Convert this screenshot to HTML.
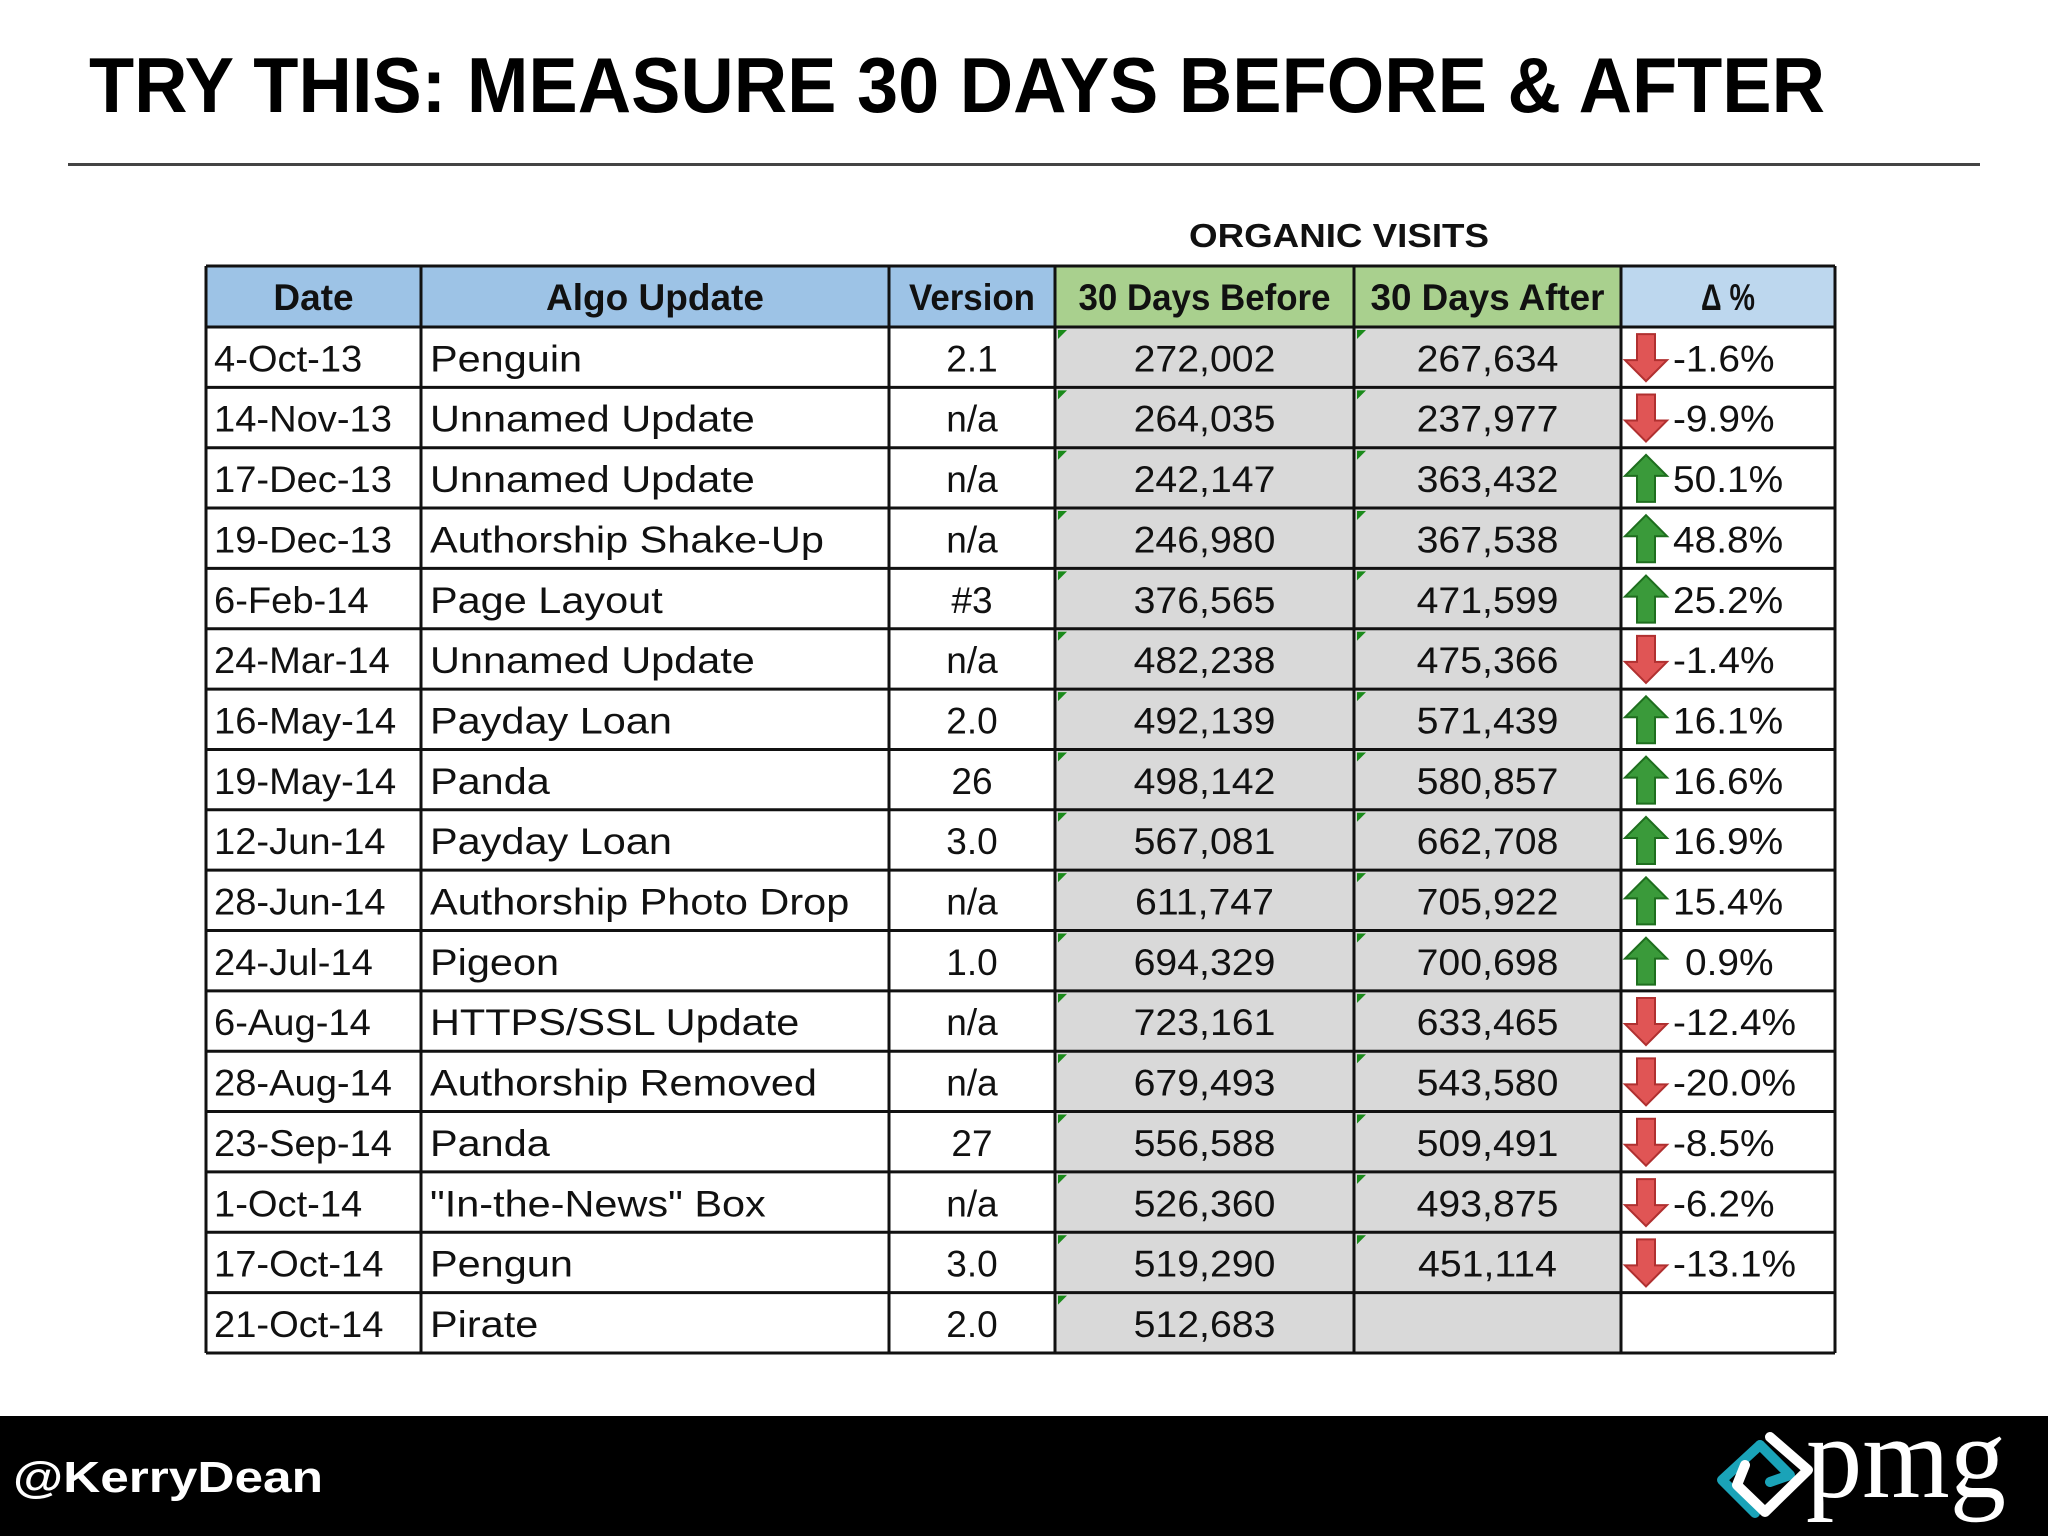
<!DOCTYPE html>
<html><head><meta charset="utf-8"><style>
html,body{margin:0;padding:0;background:#fff}
svg{display:block}
text{font-family:"Liberation Sans",sans-serif}
</style></head><body>
<svg id="s" width="2048" height="1536" viewBox="0 0 2048 1536" xmlns="http://www.w3.org/2000/svg">
<text x="89" y="112" font-size="78" font-weight="bold" textLength="1736" lengthAdjust="spacingAndGlyphs">TRY THIS: MEASURE 30 DAYS BEFORE &amp; AFTER</text>
<rect x="68" y="163" width="1912" height="3" fill="#444"/>
<text x="1339" y="247" font-size="33" font-weight="bold" text-anchor="middle" fill="#111" textLength="300" lengthAdjust="spacingAndGlyphs">ORGANIC VISITS</text>
<g id="tbl"></g>
<rect x="0" y="1416" width="2048" height="120" fill="#000"/>
<text x="13" y="1492" font-size="44" font-weight="bold" fill="#fff" textLength="310" lengthAdjust="spacingAndGlyphs">@KerryDean</text>
<g>
<path d="M1760 1445 L1722 1480 L1755 1513" stroke="#1aa3b8" stroke-width="10" fill="none" stroke-linecap="round" stroke-linejoin="round"/>
<path d="M1760 1445 L1790 1475 L1770 1482" stroke="#1aa3b8" stroke-width="10" fill="none" stroke-linecap="round" stroke-linejoin="round"/>
<path d="M1770 1437 L1808 1470 L1765 1512 L1737 1485 L1745 1465" stroke="#fff" stroke-width="10" fill="none" stroke-linecap="round" stroke-linejoin="round"/>
<text x="1806" y="1497" font-size="118" fill="#fff" textLength="200" lengthAdjust="spacingAndGlyphs" style="font-family:'Liberation Serif',serif">pmg</text>
</g>
</svg>
<script>
const dates=["4-Oct-13","14-Nov-13","17-Dec-13","19-Dec-13","6-Feb-14","24-Mar-14","16-May-14","19-May-14","12-Jun-14","28-Jun-14","24-Jul-14","6-Aug-14","28-Aug-14","23-Sep-14","1-Oct-14","17-Oct-14","21-Oct-14"];
const updates=["Penguin","Unnamed Update","Unnamed Update","Authorship Shake-Up","Page Layout","Unnamed Update","Payday Loan","Panda","Payday Loan","Authorship Photo Drop","Pigeon","HTTPS/SSL Update","Authorship Removed","Panda","\"In-the-News\" Box","Pengun","Pirate"];
const versions=["2.1","n/a","n/a","n/a","#3","n/a","2.0","26","3.0","n/a","1.0","n/a","n/a","27","n/a","3.0","2.0"];
const before=[272002,264035,242147,246980,376565,482238,492139,498142,567081,611747,694329,723161,679493,556588,526360,519290,512683];
const after=[267634,237977,363432,367538,471599,475366,571439,580857,662708,705922,700698,633465,543580,509491,493875,451114,null];
const NS="http://www.w3.org/2000/svg";
const g=document.getElementById('tbl');
const cols=[206,421,889,1055,1354,1621,1835];
const top0=266,hb=327,rh=60.35;
function el(t,a,p){const e=document.createElementNS(NS,t);for(const k in a)e.setAttribute(k,a[k]);(p||g).appendChild(e);return e;}
function txt(x,y,s,opt){const e=el('text',Object.assign({x:x,y:y,'font-size':37,fill:'#111'},opt||{}));e.textContent=s;return e;}
function widen(t,f){const w=t.getComputedTextLength();t.setAttribute('textLength',w*f);t.setAttribute('lengthAdjust','spacingAndGlyphs');}
const fmt=v=>v.toLocaleString('en-US');
const hdrs=["Date","Algo Update","Version","30 Days Before","30 Days After","Δ %"];
const hfill=["#9dc3e6","#9dc3e6","#9dc3e6","#a9d08e","#a9d08e","#bdd7ee"];
for(let c=0;c<6;c++){
 const r=el('rect',{x:cols[c],y:top0,width:cols[c+1]-cols[c],height:hb-top0,fill:hfill[c]});
 
 
 const t=txt((cols[c]+cols[c+1])/2,hb-17,hdrs[c],{'text-anchor':'middle','font-weight':'bold','font-size':37});
 
 
 const w=cols[c+1]-cols[c]-14;
 if(c>=2){t.setAttribute('textLength',Math.min(w, hdrs[c].length*18));t.setAttribute('lengthAdjust','spacingAndGlyphs');}
}
for(let i=0;i<dates.length;i++){
 const y=hb+i*rh, by=y+rh-16;
 [3,4].forEach(c=>{
  const r=el('rect',{x:cols[c],y:y,width:cols[c+1]-cols[c],height:rh,fill:'#d9d9d9'});
  
  
  if(c===3||after[i]!==null){const tri=el('path',{d:`M${cols[c]+3} ${y+3} h9 l-9 9z`,fill:'#1a8a1a'});
  
  }
 });
 let t=txt(cols[0]+8,by,dates[i]);
 
 
 widen(t,1.03);
 t=txt(cols[1]+9,by,updates[i]);
 
 
 widen(t,1.12);
 t=txt((cols[2]+cols[3])/2,by,versions[i],{'text-anchor':'middle'});
 
 
 t=txt((cols[3]+cols[4])/2,by,fmt(before[i]),{'text-anchor':'middle'});
 
 
 widen(t,1.06);
 if(after[i]!==null){
  t=txt((cols[4]+cols[5])/2,by,fmt(after[i]),{'text-anchor':'middle'});
  
  
  widen(t,1.06);
  const d=(after[i]-before[i])/before[i]*100;
  const up=d>=0, ax=cols[5]+25, yc=y+rh/2;
  let p;
  if(up) p=`M${ax} ${yc-23} L${ax+21} ${yc-2} H${ax+9} V${yc+24} H${ax-9} V${yc-2} H${ax-21}Z`;
  else p=`M${ax} ${yc+24} L${ax+21} ${yc+3} H${ax+9} V${yc-23} H${ax-9} V${yc+3} H${ax-21}Z`;
  const a=el('path',{d:p,fill:up?'#3a9a3a':'#e05555',stroke:up?'#1e6e1e':'#b03030','stroke-width':2});
  
  
  const s=(d<0?'-':'')+Math.abs(d).toFixed(1)+'%';
  t=txt(cols[5]+52+(d>=0&&d<1?12:0),by,s);
  
  
  widen(t,1.05);
 }
}
const bot=hb+dates.length*rh;
for(let i=0;i<=dates.length;i++){const l=el('line',{x1:cols[0],x2:cols[6],y1:hb+i*rh,y2:hb+i*rh,stroke:'#111','stroke-width':3});
 
 }
el('line',{x1:cols[0],x2:cols[6],y1:top0,y2:top0,stroke:'#111','stroke-width':3});
cols.forEach(x=>{const l=el('line',{x1:x,x2:x,y1:top0,y2:bot,stroke:'#111','stroke-width':3});
 
 });
</script>
</body></html>
